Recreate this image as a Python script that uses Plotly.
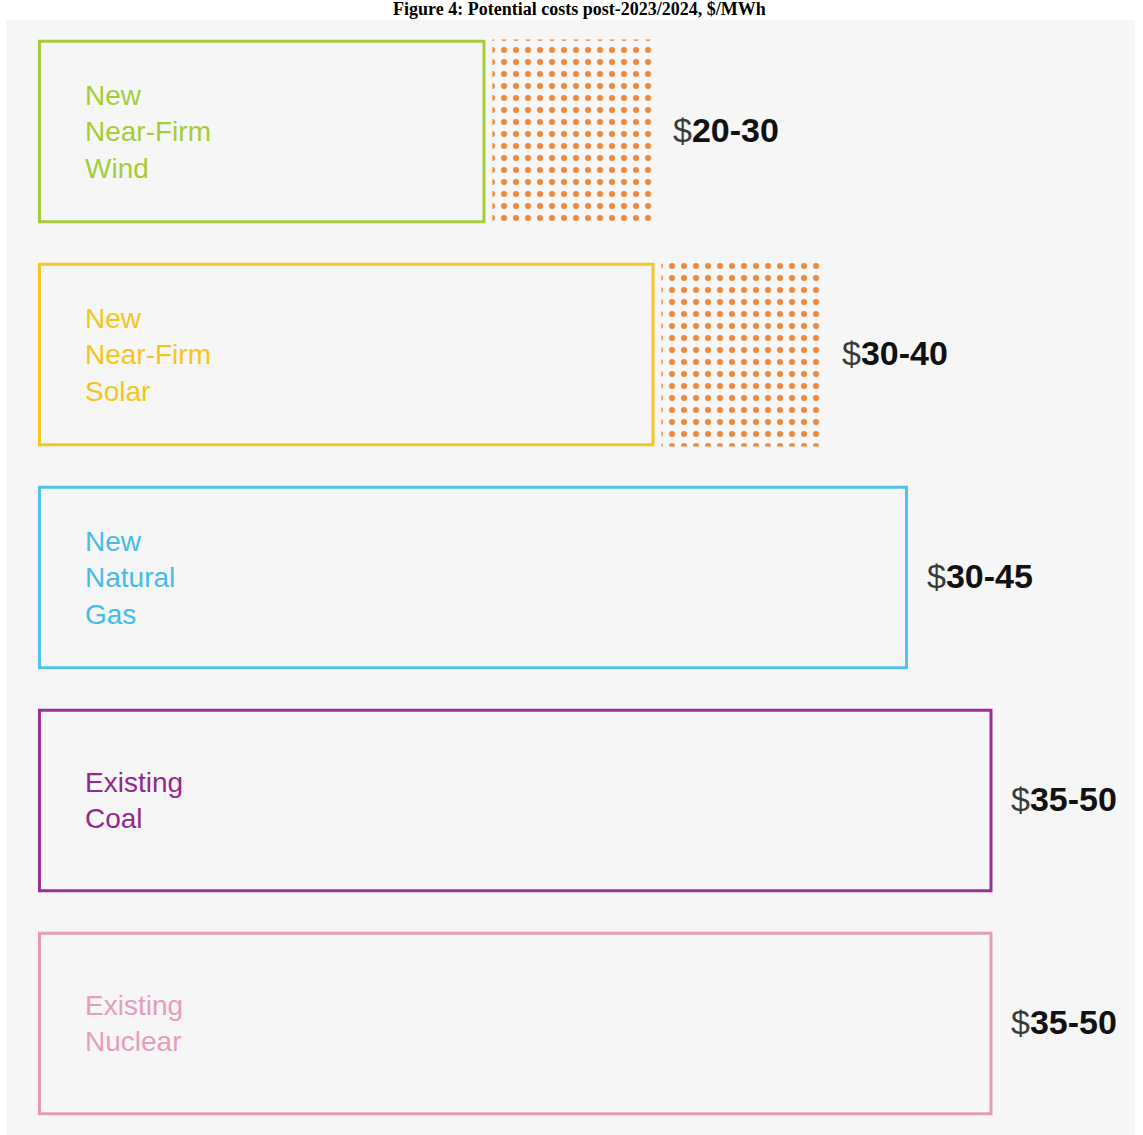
import plotly.graph_objects as go

# ---- data ----
categories = ["Wind", "Solar", "Gas", "Coal", "Nuclear"]
box_labels = [
    "New<br>Near-Firm<br>Wind",
    "New<br>Near-Firm<br>Solar",
    "New<br>Natural<br>Gas",
    "Existing<br>Coal",
    "Existing<br>Nuclear",
]
cost_low = [20, 30, 30, 35, 35]
cost_high = [30, 40, 45, 50, 50]
solid_end = [20, 30, 45, 50, 50]          # extent of the outlined box ($/MWh)
dotted_end = [30, 40, None, None, None]   # extent of the dotted (uncertain) range
line_colors = ["#a8cb3c", "#f7c623", "#52c2ec", "#982f97", "#e59bb7"]
text_colors = ["#a6cc3a", "#f6c51c", "#45bde9", "#93298f", "#e89dbd"]
dot_color = "#f0893a"
title_text = "Figure 4: Potential costs post-2023/2024, $/MWh"

# ---- layout constants ----
BOX_START = -6.3
DOT_GAP = 0.5

fig = go.Figure()

# outlined boxes
fig.add_trace(go.Bar(
    orientation="h",
    y=categories,
    x=[e - BOX_START for e in solid_end],
    base=[BOX_START] * len(categories),
    width=0.81,
    marker=dict(color="rgba(0,0,0,0)", line=dict(color=line_colors, width=3)),
    hoverinfo="skip",
))

# dotted ranges
dc = [c for c, d in zip(categories, dotted_end) if d is not None]
ds = [s + DOT_GAP for s, d in zip(solid_end, dotted_end) if d is not None]
de = [d for d in dotted_end if d is not None]
fig.add_trace(go.Bar(
    orientation="h",
    y=dc,
    x=[e - s for s, e in zip(ds, de)],
    base=ds,
    width=0.825,
    marker=dict(
        color="rgba(0,0,0,0)",
        line=dict(width=0),
        pattern=dict(shape=".", size=12, solidity=0.2, fgcolor=dot_color,
                     fgopacity=1, fillmode="overlay"),
    ),
    hoverinfo="skip",
))

annotations = []
for i, c in enumerate(categories):
    annotations.append(dict(
        x=BOX_START, y=c, xref="x", yref="y", xanchor="left", yanchor="middle",
        xshift=44, text=box_labels[i], showarrow=False, align="left",
        font=dict(family="Liberation Sans, Arial, sans-serif", size=28, color=text_colors[i]),
    ))
    annotations.append(dict(
        x=cost_high[i], y=c, xref="x", yref="y", xanchor="left", yanchor="middle",
        xshift=18, yshift=2, text=f"<span style='color:#3a3a3a'>$</span><b>{cost_low[i]}-{cost_high[i]}</b>",
        showarrow=False, align="left",
        font=dict(family="Liberation Sans, Arial, sans-serif", size=34, color="#111111"),
    ))

annotations.append(dict(
    x=0.508, y=1, xref="paper", yref="paper", xanchor="center", yanchor="bottom",
    yshift=-1, text=f"<b>{title_text}</b>", showarrow=False,
    font=dict(family="Liberation Serif, Times New Roman, serif", size=18, color="#000000"),
))

fig.update_layout(
    width=1143, height=1135,
    margin=dict(l=6, r=8, t=20, b=0),
    paper_bgcolor="#ffffff",
    plot_bgcolor="#f6f6f6",
    barmode="overlay",
    showlegend=False,
    annotations=annotations,
    xaxis=dict(range=[-8.28, 58.52], showgrid=False, zeroline=False,
               showticklabels=False, fixedrange=True),
    yaxis=dict(range=[4.5, -0.5], showgrid=False, zeroline=False,
               showticklabels=False, fixedrange=True, type="category",
               categoryorder="array", categoryarray=categories),
)

fig.write_html("out.html")
